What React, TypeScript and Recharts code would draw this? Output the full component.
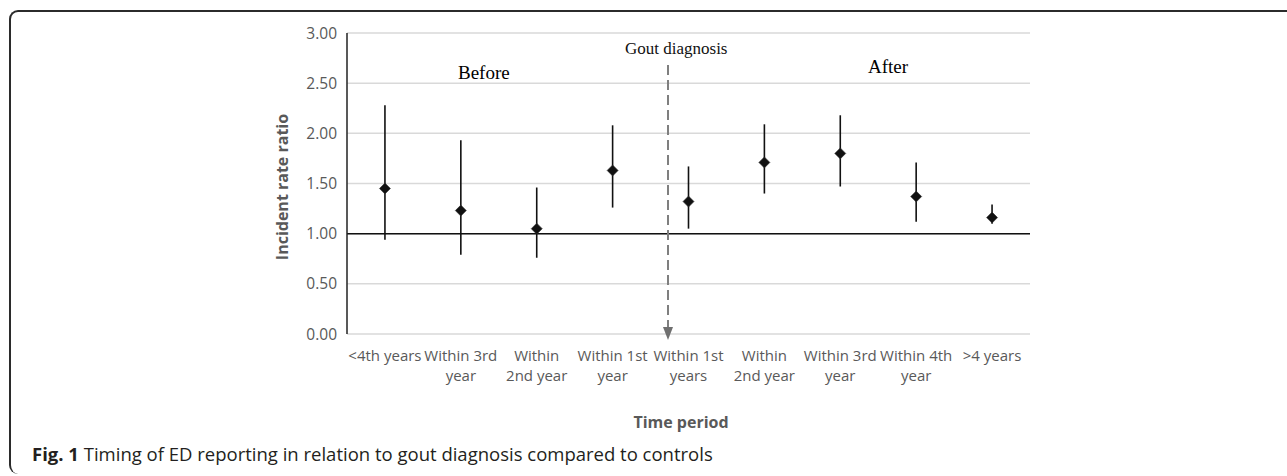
import {
  CartesianGrid,
  ComposedChart,
  ErrorBar,
  ReferenceLine,
  Scatter,
  XAxis,
  YAxis,
} from 'recharts';

const periods = [
  '<4th years',
  'Within 3rd\nyear',
  'Within\n2nd year',
  'Within 1st\nyear',
  'Within 1st\nyears',
  'Within\n2nd year',
  'Within 3rd\nyear',
  'Within 4th\nyear',
  '>4 years',
];
const irr = [1.45, 1.23, 1.05, 1.63, 1.32, 1.71, 1.8, 1.37, 1.16];
const ciLow = [0.94, 0.79, 0.76, 1.26, 1.05, 1.4, 1.47, 1.12, 1.1];
const ciHigh = [2.28, 1.93, 1.46, 2.08, 1.67, 2.09, 2.18, 1.71, 1.29];
const yTicks = [0, 0.5, 1, 1.5, 2, 2.5, 3];

// where the diagnosis marker sits on the period axis, and where its dashed line starts
const diagnosisAt = 4.23;
const diagnosisTop = 2.68;
const diagnosisTip = -0.06;

const AXIS_GREY = '#595959';
const SANS = '"Open Sans", sans-serif';
const SERIF = '"Liberation Serif", "DejaVu Serif", serif';

const data = periods.map((p, i) => ({
  pos: i + 0.5,
  label: p,
  irr: irr[i],
  err: [irr[i] - ciLow[i], ciHigh[i] - irr[i]],
}));

function PeriodTick(props: { x?: number; y?: number; payload?: { value: number } }) {
  const { x = 0, y = 0, payload } = props;
  const i = Math.round((payload?.value ?? 0.5) - 0.5);
  const lines = (periods[i] ?? '').split('\n');
  return (
    <text x={x} y={y} textAnchor="middle" fill={AXIS_GREY} fontSize={15} fontFamily={SANS}>
      {lines.map((l, k) => (
        <tspan key={k} x={x} dy={k === 0 ? 19 : 20}>
          {l}
        </tspan>
      ))}
    </text>
  );
}

function Diamond(props: { cx?: number; cy?: number }) {
  const { cx = 0, cy = 0 } = props;
  const r = 5.5;
  return (
    <polygon
      points={`${cx},${cy - r} ${cx + r},${cy} ${cx},${cy + r} ${cx - r},${cy}`}
      fill="#111"
      stroke="#333"
      strokeWidth={0.6}
    />
  );
}

function ArrowLine(props: { x1?: number; y1?: number; x2?: number; y2?: number }) {
  const { x1 = 0, y1 = 0, y2 = 0 } = props;
  const top = Math.min(y1, y2);
  const tip = Math.max(y1, y2);
  const head = 13;
  return (
    <g>
      <line
        x1={x1}
        y1={top}
        x2={x1}
        y2={tip - head}
        stroke="#7f7f7f"
        strokeWidth={2}
        strokeDasharray="10 5"
      />
      <polygon
        points={`${x1 - 5},${tip - head} ${x1 + 5},${tip - head} ${x1},${tip}`}
        fill="#6f6f6f"
      />
    </g>
  );
}

export default function App() {
  return (
    <div
      style={{
        position: 'absolute',
        left: 0,
        top: 0,
        width: 1287,
        height: 476,
        background: '#fff',
        overflow: 'hidden',
      }}
    >
      <div
        style={{
          position: 'absolute',
          left: 9,
          top: 10,
          width: 1290,
          height: 464,
          borderTop: '2px solid #2b2b2b',
          borderLeft: '2px solid #2b2b2b',
          borderTopLeftRadius: 9,
          borderBottomLeftRadius: 9,
          boxSizing: 'border-box',
        }}
      />
      <div style={{ position: 'absolute', left: 0, top: 0 }}>
        <ComposedChart
          width={1287}
          height={476}
          data={data}
          margin={{ top: 33, right: 257, bottom: 92, left: 287 }}
        >
          <CartesianGrid vertical={false} stroke="#d9d9d9" strokeWidth={1.5} />
          <XAxis
            type="number"
            dataKey="pos"
            domain={[0, 9]}
            ticks={data.map((d) => d.pos)}
            interval={0}
            height={50}
            tickLine={false}
            axisLine={false}
            tick={<PeriodTick />}
          />
          <YAxis
            type="number"
            domain={[0, 3]}
            ticks={yTicks}
            width={60}
            tickFormatter={(v: number) => v.toFixed(2)}
            tickLine={false}
            tickMargin={4}
            axisLine={{ stroke: '#222', strokeWidth: 1.5 }}
            tick={{ fill: AXIS_GREY, fontSize: 15.5, fontFamily: SANS }}
          />
          <ReferenceLine y={1} stroke="#111" strokeWidth={1.5} />
          <ReferenceLine
            segment={[
              { x: diagnosisAt, y: diagnosisTop },
              { x: diagnosisAt, y: diagnosisTip },
            ]}
            ifOverflow="visible"
            shape={(p: any) => <ArrowLine {...p} />}
          />
          <Scatter dataKey="irr" shape={<Diamond />} isAnimationActive={false}>
            <ErrorBar
              dataKey="err"
              direction="y"
              width={0}
              stroke="#111"
              strokeWidth={1.6}
              isAnimationActive={false}
            />
          </Scatter>
        </ComposedChart>
      </div>
      <svg
        width={1287}
        height={476}
        style={{ position: 'absolute', left: 0, top: 0, pointerEvents: 'none' }}
      >
        <text x={625} y={54} fontFamily={SERIF} fontSize={17} fill="#111">
          Gout diagnosis
        </text>
        <text x={458} y={79} fontFamily={SERIF} fontSize={19} fill="#000">
          Before
        </text>
        <text x={868} y={73} fontFamily={SERIF} fontSize={19} fill="#000">
          After
        </text>
        <text
          x={0}
          y={0}
          transform="translate(288,187) rotate(-90)"
          textAnchor="middle"
          fontFamily={SANS}
          fontSize={16}
          fontWeight={700}
          fill={AXIS_GREY}
        >
          Incident rate ratio
        </text>
        <text
          x={681}
          y={428}
          textAnchor="middle"
          fontFamily={SANS}
          fontSize={16}
          fontWeight={700}
          fill={AXIS_GREY}
        >
          Time period
        </text>
        <text x={32} y={461} fontFamily={SANS} fontSize={18.5} fill="#231f20">
          <tspan fontWeight={700}>Fig. 1</tspan>
          <tspan> Timing of ED reporting in relation to gout diagnosis compared to controls</tspan>
        </text>
      </svg>
    </div>
  );
}
